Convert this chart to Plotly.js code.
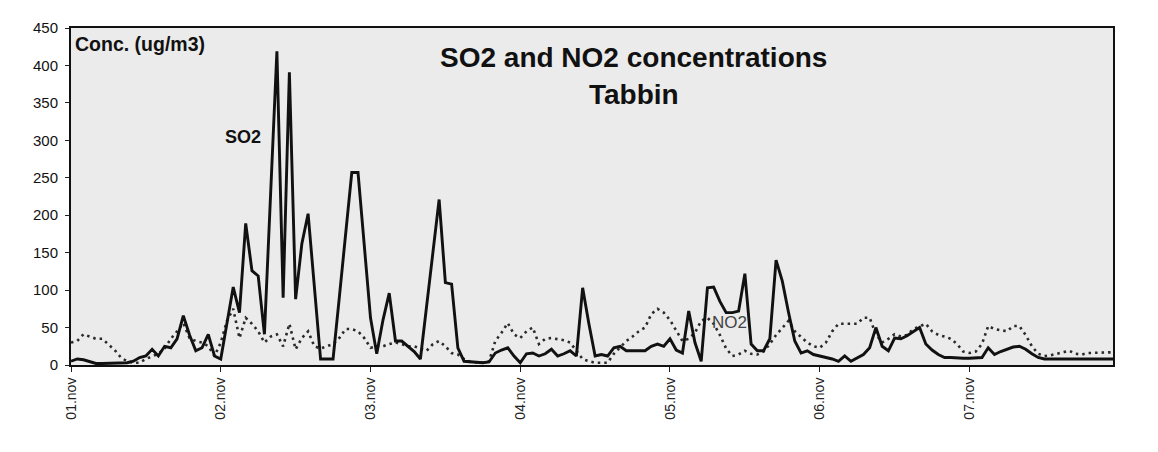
<!DOCTYPE html>
<html>
<head>
<meta charset="utf-8">
<script src="https://cdn.plot.ly/plotly-3.0.1.min.js"></script>
<style>
html,body{margin:0;padding:0;background:#fff;}
#chart{width:1158px;height:452px;}
</style>
</head>
<body>
<div id="chart"></div>
<script>
// Hourly concentrations (ug/m3), 01.nov 00h .. 07.nov 23h
const so2 = [
  5, 8, 7, 4, 2, 2, 2, 2, 3, 3, 5, 10, 12, 21, 12, 25, 23, 35, 66, 40, 19, 23, 41, 12,
  8, 55, 104, 70, 189, 126, 119, 41, 230, 419, 90, 391, 88, 162, 202, 105, 8, 8, 8, 90, 175, 257, 257, 160,
  63, 15, 60, 96, 32, 32, 25, 18, 8, 75, 150, 221, 110, 108, 23, 5, 4, 3, 3, 4, 16, 20, 23, 12,
  3, 15, 16, 12, 15, 21, 12, 15, 19, 12, 103, 55, 12, 14, 12, 23, 25, 19, 19, 19, 19, 25, 28, 25,
  35, 20, 16, 72, 30, 5, 103, 104, 85, 70, 70, 72, 122, 28, 19, 19, 35, 140, 112, 70, 32, 16, 19, 14,
  12, 10, 8, 5, 12, 5, 10, 14, 23, 50, 25, 19, 36, 35, 39, 45, 50, 28, 20, 14, 10, 10, 9, 9,
  9, 10, 10, 23, 14, 18, 21, 24, 25, 21, 15, 10, 8, 8, 8, 8, 8, 8, 8, 8, 8, 8, 8, 8
];
const no2 = [
  30, 32, 41, 38, 35, 35, 28, 20, 10, 5, 3, 3, 8, 12, 15, 22, 35, 45, 56, 36, 32, 30, 25, 12,
  30, 59, 75, 36, 63, 55, 45, 30, 38, 41, 25, 55, 21, 36, 45, 25, 22, 25, 28, 36, 48, 48, 45, 36,
  23, 25, 25, 28, 30, 28, 25, 25, 22, 19, 28, 32, 25, 16, 14, 8, 4, 3, 3, 5, 32, 43, 56, 41,
  36, 45, 50, 28, 35, 36, 35, 33, 30, 19, 8, 5, 3, 3, 3, 15, 23, 32, 38, 45, 50, 68, 75, 70,
  60, 45, 32, 35, 43, 59, 63, 55, 40, 22, 12, 14, 19, 15, 14, 18, 28, 40, 50, 59, 45, 38, 30, 25,
  23, 30, 45, 55, 55, 55, 55, 63, 63, 41, 30, 35, 41, 38, 40, 48, 52, 55, 45, 40, 38, 35, 28, 18,
  16, 18, 28, 52, 48, 46, 45, 52, 52, 40, 25, 15, 12, 13, 15, 17, 19, 15, 14, 16, 16, 16, 16, 17
];
const dayLabels = ["01.nov", "02.nov", "03.nov", "04.nov", "05.nov", "06.nov", "07.nov"];
const hoursPerDay = 24;

const hours = so2.map((_, i) => i);
const tickVals = dayLabels.map((_, i) => i * hoursPerDay);

const font = "Liberation Sans, Arial, sans-serif";

const traces = [
  {
    x: hours, y: no2, type: "scatter", mode: "lines", name: "NO2",
    line: {color: "#2a2a2a", width: 2.6, dash: "2.5px,4px"},
    hoverinfo: "x+y"
  },
  {
    x: hours, y: so2, type: "scatter", mode: "lines", name: "SO2",
    line: {color: "#111111", width: 2.9},
    hoverinfo: "x+y"
  }
];

const layout = {
  width: 1158, height: 452,
  margin: {l: 71, r: 45, t: 28, b: 87},
  paper_bgcolor: "#ffffff",
  plot_bgcolor: "#ebebeb",
  showlegend: false,
  font: {family: font, color: "#111", size: 14},
  xaxis: {
    range: [0, so2.length - 1],
    tickvals: tickVals,
    ticktext: dayLabels,
    tickangle: -90,
    ticks: "outside", ticklen: 5, tickwidth: 1, tickcolor: "#222",
    showline: true, linecolor: "#111", linewidth: 2, mirror: true,
    showgrid: false, zeroline: false,
    tickfont: {family: font, size: 14, color: "#222"}
  },
  yaxis: {
    range: [0, 450],
    tickvals: [0, 50, 100, 150, 200, 250, 300, 350, 400, 450],
    ticks: "outside", ticklen: 4, tickwidth: 1, tickcolor: "#222",
    ticklabelstandoff: 4,
    showline: true, linecolor: "#111", linewidth: 2, mirror: true,
    showgrid: false, zeroline: false,
    tickfont: {family: font, size: 15, color: "#111"}
  },
  annotations: [
    {text: "<b>SO2 and NO2 concentrations</b>", xref: "paper", yref: "paper",
     x: 0.540, y: 0.913, xanchor: "center", yanchor: "middle", showarrow: false,
     font: {family: font, size: 28, color: "#111"}},
    {text: "<b>Tabbin</b>", xref: "paper", yref: "paper",
     x: 0.540, y: 0.803, xanchor: "center", yanchor: "middle", showarrow: false,
     font: {family: font, size: 28, color: "#111"}},
    {text: "<b>Conc. (ug/m3)</b>", xref: "paper", yref: "paper",
     x: 0.002, y: 0.99, xanchor: "left", yanchor: "top", showarrow: false,
     font: {family: font, size: 19.5, color: "#111"}},
    {text: "<b>SO2</b>", xref: "x", yref: "y",
     x: 27.5, y: 304, xanchor: "center", yanchor: "middle", showarrow: false,
     font: {family: font, size: 18, color: "#111"}},
    {text: "NO2", xref: "x", yref: "y",
     x: 105.5, y: 57, xanchor: "center", yanchor: "middle", showarrow: false,
     font: {family: font, size: 17, color: "#444"}}
  ]
};

Plotly.newPlot("chart", traces, layout, {displayModeBar: false, staticPlot: true});
</script>
</body>
</html>
